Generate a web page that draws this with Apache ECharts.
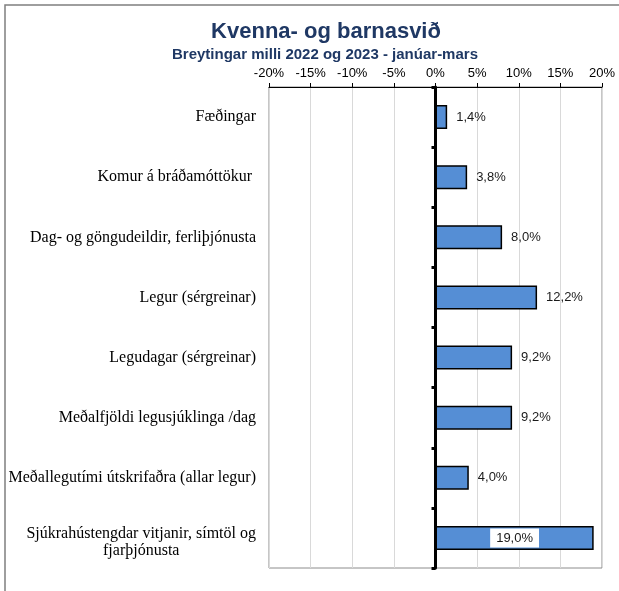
<!DOCTYPE html>
<html>
<head>
<meta charset="utf-8">
<title>Kvenna- og barnasvið</title>
<script src="https://cdn.jsdelivr.net/npm/echarts@6/dist/echarts.min.js"></script>
<style>
  html, body { margin: 0; padding: 0; background: #fff; }
  #main { width: 619px; height: 591px; }
</style>
</head>
<body>
<div id="main"></div>
<script>
// gögn
var categories = [
  'Fæðingar',
  'Komur á bráðamóttökur ',
  'Dag- og göngudeildir, ferliþjónusta',
  'Legur (sérgreinar)',
  'Legudagar (sérgreinar)',
  'Meðalfjöldi legusjúklinga /dag',
  'Meðallegutími útskrifaðra (allar legur)',
  'Sjúkrahústengdar vitjanir, símtöl og\nfjarþjónusta'
];
var values = [1.4, 3.8, 8.0, 12.2, 9.2, 9.2, 4.0, 19.0];
var xTicks = [-20, -15, -10, -5, 0, 5, 10, 15, 20];

var sans = "'Liberation Sans', Arial, sans-serif";
var serif = "'Liberation Serif', 'Times New Roman', serif";

function pct(v) {
  return v.toFixed(1).replace('.', ',') + '%';
}

var barData = values.map(function (v, i) {
  var item = { value: v };
  // síðasta súlan: merki inni í súlunni á hvítum grunni
  if (i === values.length - 1) {
    item.label = {
      position: 'inside',
      backgroundColor: '#fff',
      padding: [3, 6]
    };
  }
  return item;
});

var myChart = echarts.init(document.getElementById('main'));

var option = {
  animation: false,
  backgroundColor: '#fff',
  graphic: [{
    type: 'rect',
    shape: { x: 5, y: 5, width: 900, height: 900 },
    style: { fill: 'none', stroke: '#7f7f7f', lineWidth: 1.5 },
    silent: true
  }],
  title: [{
    text: 'Kvenna- og barnasvið',
    left: 321,
    top: 16,
    textAlign: 'center',
    textStyle: { fontFamily: sans, fontSize: 22, fontWeight: 'bold', color: '#1f3864' }
  }, {
    text: 'Breytingar milli 2022 og 2023 - janúar-mars',
    left: 320,
    top: 42,
    textAlign: 'center',
    textStyle: { fontFamily: sans, fontSize: 15, fontWeight: 'bold', color: '#1f3864' }
  }],
  grid: {
    left: 269,
    right: 17,
    top: 87,
    bottom: 23,
    show: true,
    borderColor: '#8c8c8c',
    borderWidth: 1
  },
  xAxis: {
    type: 'value',
    position: 'top',
    min: xTicks[0],
    max: xTicks[xTicks.length - 1],
    interval: 5,
    axisLine: { show: true, lineStyle: { color: '#000', width: 1 } },
    axisTick: { show: true, length: 4, lineStyle: { color: '#000' } },
    splitLine: { show: true, lineStyle: { color: '#d9d9d9', width: 1 } },
    axisLabel: {
      margin: 7,
      fontFamily: sans,
      fontSize: 13,
      color: '#000',
      formatter: function (v) { return v + '%'; }
    }
  },
  yAxis: [{
    // flokkaheiti vinstra megin
    type: 'category',
    data: categories,
    inverse: true,
    position: 'left',
    axisLine: { show: false, onZero: false },
    axisTick: { show: false },
    axisLabel: {
      margin: 13,
      fontFamily: serif,
      fontSize: 16,
      color: '#000',
      lineHeight: 17,
      formatter: function (v) {
        if (v.indexOf('\n') < 0) return v;
        return v.split('\n').map(function (s) { return '{c|' + s + '}'; }).join('\n');
      },
      rich: {
        c: { align: 'center', fontFamily: serif, fontSize: 16, color: '#000', lineHeight: 17, padding: [8, 0, 0, 0] }
      }
    }
  }, {
    // svarta núlllínan
    type: 'category',
    data: categories,
    inverse: true,
    position: 'left',
    axisLine: { show: true, onZero: true, lineStyle: { color: '#000', width: 3 } },
    axisTick: { show: true, length: 4, lineStyle: { color: '#000', width: 3 } },
    axisLabel: { show: false },
    splitLine: { show: false }
  }],
  series: [{
    type: 'bar',
    yAxisIndex: 0,
    data: barData,
    barWidth: 24,
    itemStyle: { color: '#558ed5', borderColor: '#000', borderWidth: 1.5 },
    label: {
      show: true,
      position: 'right',
      distance: 9,
      fontFamily: sans,
      fontSize: 13,
      color: '#1a1a1a',
      formatter: function (p) { return pct(p.value); }
    },
    z: 1
  }]
};

myChart.setOption(option);
</script>
</body>
</html>
